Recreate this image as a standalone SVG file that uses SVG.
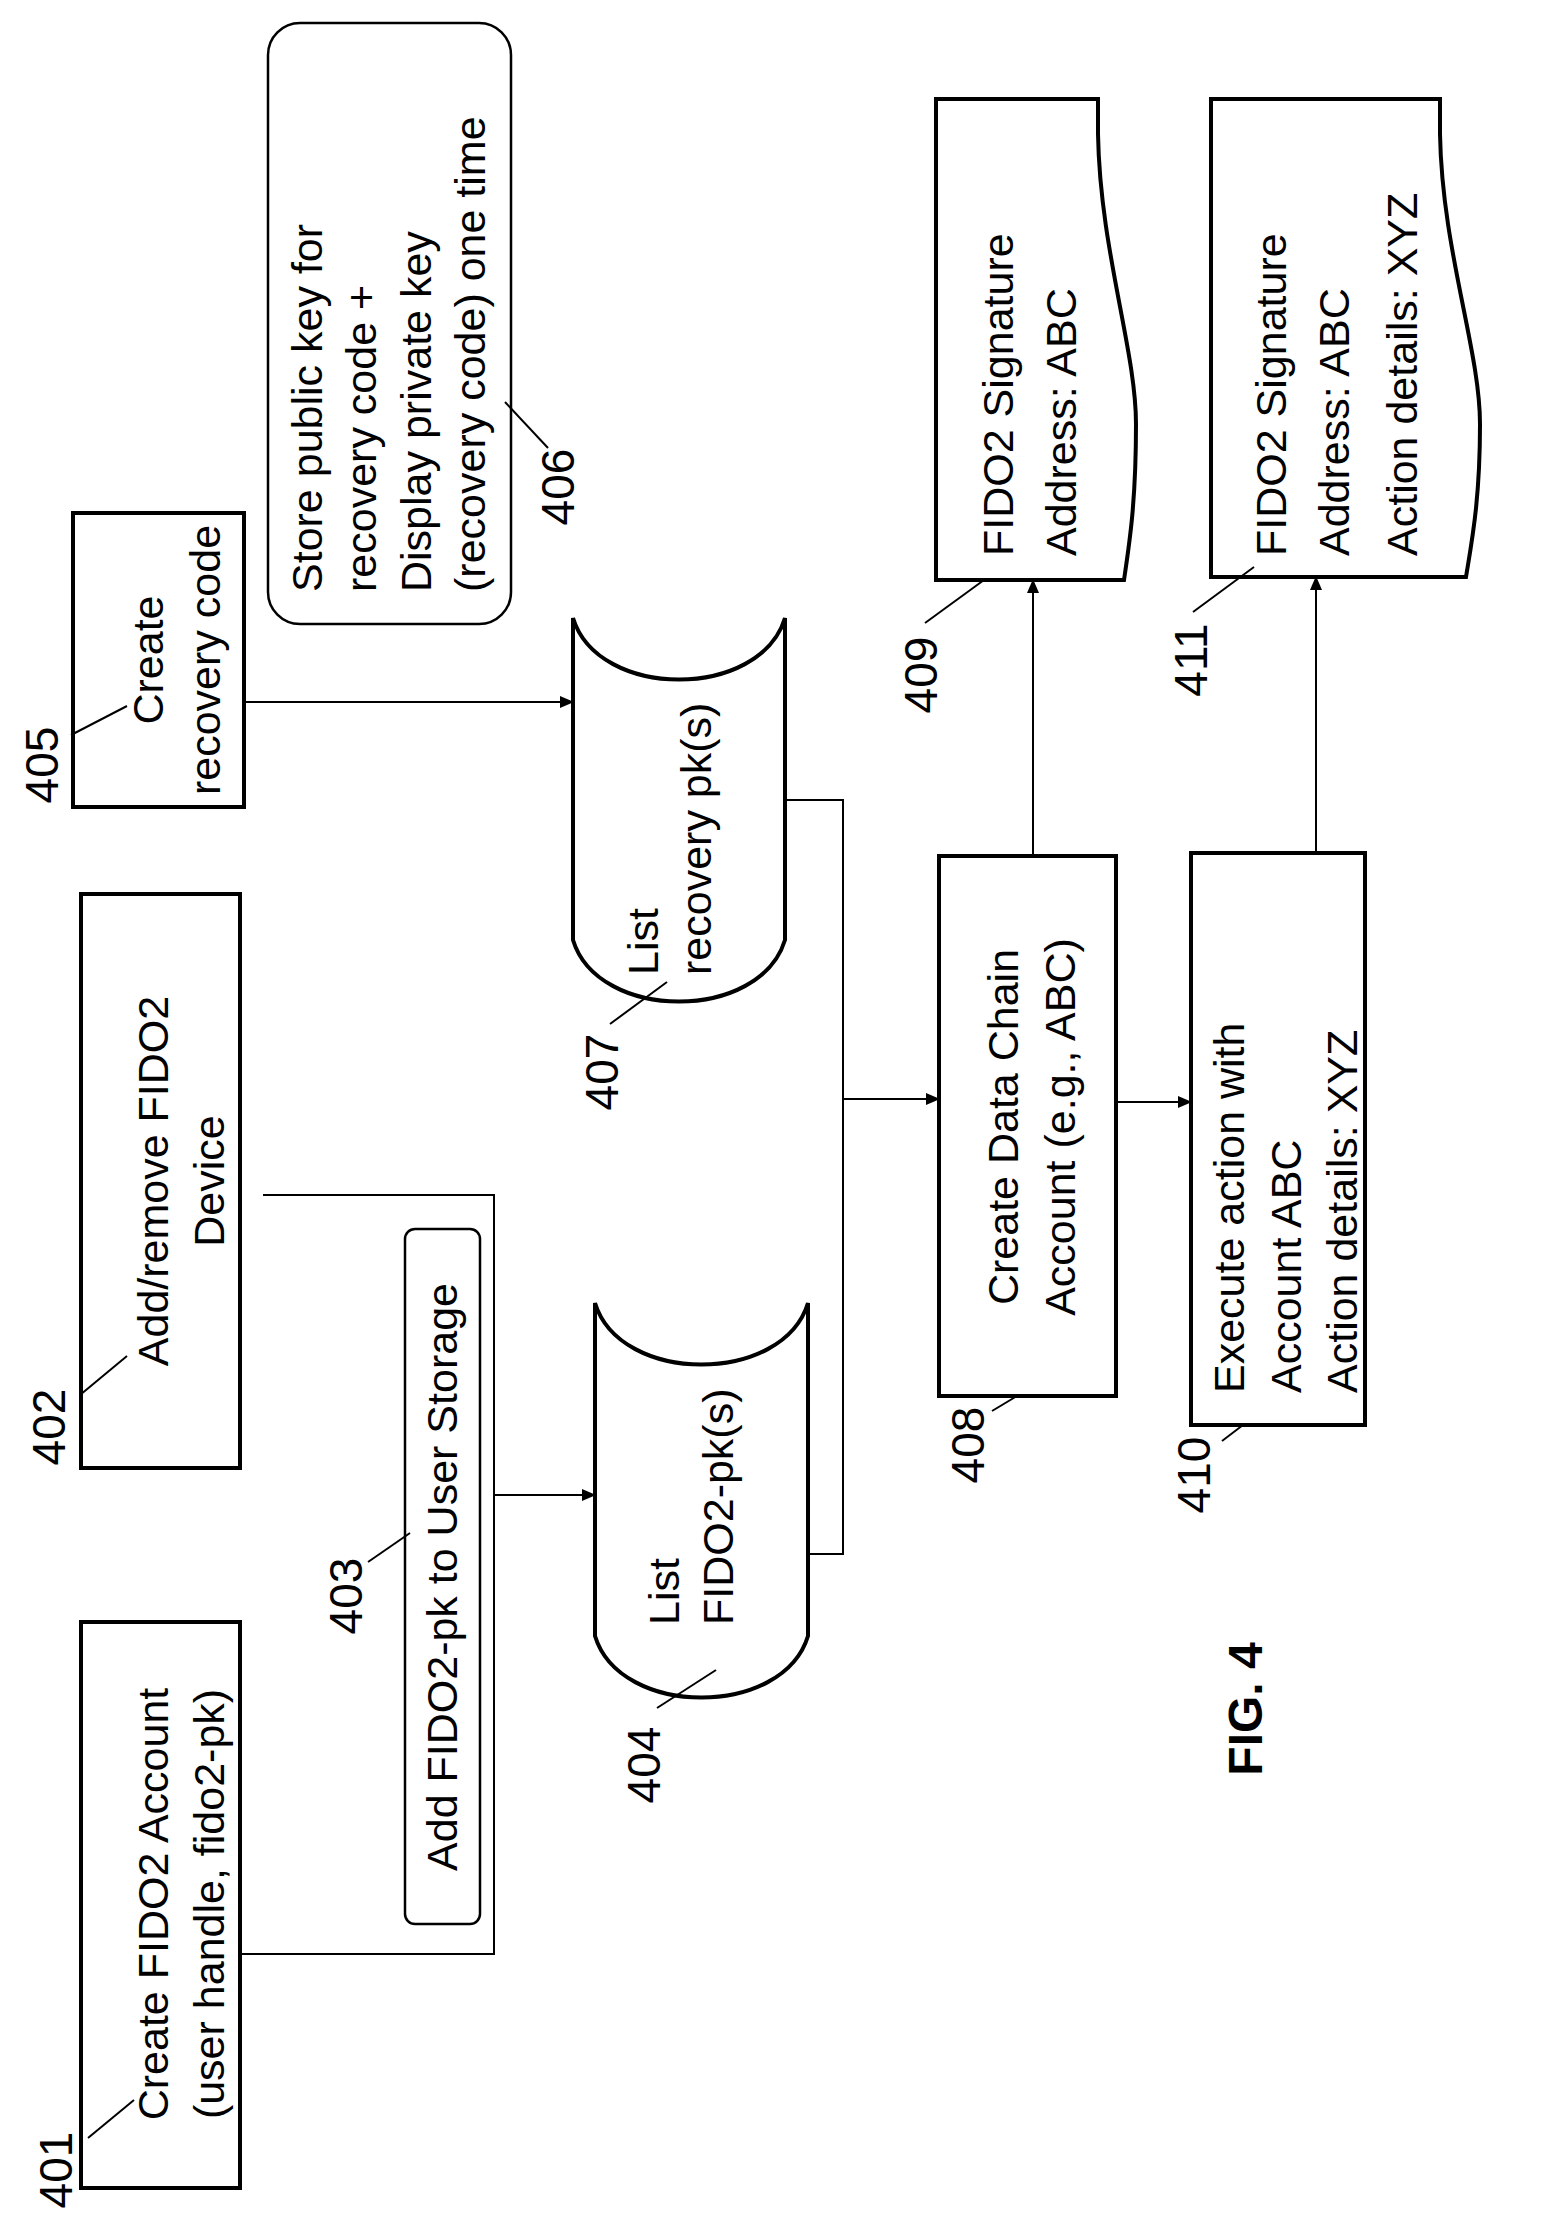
<svg xmlns="http://www.w3.org/2000/svg" width="1554" height="2213" viewBox="0 0 1554 2213">
<style>
.b{fill:none;stroke:#000;stroke-width:4}
.l{fill:none;stroke:#000;stroke-width:2}
.c{fill:none;stroke:#000;stroke-width:2.5}
text{font-family:"Liberation Sans",Arial,sans-serif;font-size:43px;fill:#000}
.m{text-anchor:middle}
.n{font-size:46px}
</style>
<defs><marker id="a" markerWidth="14" markerHeight="12" refX="13" refY="6" orient="auto" markerUnits="userSpaceOnUse"><path d="M0,0 L14,6 L0,12 Z" fill="#000"/></marker></defs>
<rect width="1554" height="2213" fill="#fff"/>
<g id="n401"><rect class="b" x="81" y="1622" width="159" height="566"/>
<text class="m" transform="translate(168,1904) rotate(-90)">Create FIDO2 Account</text>
<text class="m" transform="translate(224,1904) rotate(-90)">(user handle, fido2-pk)</text>
<text class="m n" transform="translate(72,2170) rotate(-90)">401</text><line class="l" x1="88" y1="2138" x2="134" y2="2100"/></g>
<g id="n402"><rect class="b" x="81" y="894" width="159" height="574"/>
<text class="m" transform="translate(168,1181) rotate(-90)">Add/remove FIDO2</text>
<text class="m" transform="translate(224,1181) rotate(-90)">Device</text>
<text class="m n" transform="translate(65,1427) rotate(-90)">402</text><line class="l" x1="80" y1="1395" x2="127" y2="1356"/></g>
<g id="n403"><rect class="c" x="405" y="1229" width="75" height="695" rx="10"/>
<text class="m" transform="translate(457,1577) rotate(-90)">Add FIDO2-pk to User Storage</text>
<text class="m n" transform="translate(362,1596) rotate(-90)">403</text><line class="l" x1="368" y1="1562" x2="410" y2="1533"/></g>
<g id="n404"><path class="b" d="M595,1303 C620,1385 783,1385 808,1303 V1636 C783,1718 620,1718 595,1636 Z"/>
<text transform="translate(679,1625) rotate(-90)">List</text>
<text transform="translate(733,1625) rotate(-90)">FIDO2-pk(s)</text>
<text class="m n" transform="translate(660,1765) rotate(-90)">404</text><line class="l" x1="657" y1="1708" x2="716" y2="1670"/></g>
<g id="n405"><rect class="b" x="73" y="513" width="171" height="294"/>
<text class="m" transform="translate(163,660) rotate(-90)">Create</text>
<text class="m" transform="translate(220,660) rotate(-90)">recovery code</text>
<text class="m n" transform="translate(58,765) rotate(-90)">405</text><line class="l" x1="71" y1="735" x2="127" y2="706"/></g>
<g id="n406"><rect class="c" x="268" y="23" width="243" height="601" rx="32"/>
<text transform="translate(322,592) rotate(-90)">Store public key for</text>
<text transform="translate(376,592) rotate(-90)">recovery code +</text>
<text transform="translate(431,592) rotate(-90)">Display private key</text>
<text transform="translate(485,592) rotate(-90)">(recovery code) one time</text>
<text class="m n" transform="translate(574,487) rotate(-90)">406</text><line class="l" x1="548" y1="448" x2="505" y2="402"/></g>
<g id="n407"><path class="b" d="M573,618 C598,700 760,700 785,618 V940 C760,1022 598,1022 573,940 Z"/>
<text transform="translate(658,975) rotate(-90)">List</text>
<text transform="translate(711,975) rotate(-90)">recovery pk(s)</text>
<text class="m n" transform="translate(618,1072) rotate(-90)">407</text><line class="l" x1="610" y1="1024" x2="667" y2="982"/></g>
<g id="n408"><rect class="b" x="939" y="856" width="177" height="540"/>
<text class="m" transform="translate(1018,1127) rotate(-90)">Create Data Chain</text>
<text class="m" transform="translate(1075,1127) rotate(-90)">Account (e.g., ABC)</text>
<text class="m n" transform="translate(984,1445) rotate(-90)">408</text><line class="l" x1="992" y1="1411" x2="1017" y2="1396"/></g>
<g id="n409"><path class="b" d="M936,99 H1098 V134 C1100,250 1136,350 1136,424 C1136,500 1130,540 1124,580 H936 Z"/>
<text transform="translate(1013,556) rotate(-90)">FIDO2 Signature</text>
<text transform="translate(1076,556) rotate(-90)">Address: ABC</text>
<text class="m n" transform="translate(937,675) rotate(-90)">409</text><line class="l" x1="925" y1="623" x2="984" y2="580"/></g>
<g id="n410"><rect class="b" x="1191" y="853" width="174" height="572"/>
<text transform="translate(1244,1393) rotate(-90)">Execute action with</text>
<text transform="translate(1301,1393) rotate(-90)">Account ABC</text>
<text transform="translate(1357,1393) rotate(-90)">Action details: XYZ</text>
<text class="m n" transform="translate(1210,1475) rotate(-90)">410</text><line class="l" x1="1222" y1="1441" x2="1243" y2="1425"/></g>
<g id="n411"><path class="b" d="M1211,99 H1440 V134 C1442,250 1480,350 1480,424 C1480,500 1472,540 1466,577 H1211 Z"/>
<text transform="translate(1286,556) rotate(-90)">FIDO2 Signature</text>
<text transform="translate(1349,556) rotate(-90)">Address: ABC</text>
<text transform="translate(1417,556) rotate(-90)">Action details: XYZ</text>
<text class="m n" transform="translate(1207,660) rotate(-90)">411</text><line class="l" x1="1193" y1="612" x2="1254" y2="567"/></g>
<g id="connectors">
<polyline class="l" points="240,1954 494,1954 494,1195 263,1195"/>
<line class="l" x1="494" y1="1495" x2="595" y2="1495" marker-end="url(#a)"/>
<line class="l" x1="244" y1="702" x2="573" y2="702" marker-end="url(#a)"/>
<polyline class="l" points="785,800 843,800 843,1554 808,1554"/>
<line class="l" x1="843" y1="1099" x2="939" y2="1099" marker-end="url(#a)"/>
<line class="l" x1="1116" y1="1102" x2="1191" y2="1102" marker-end="url(#a)"/>
<line class="l" x1="1033" y1="856" x2="1033" y2="580" marker-end="url(#a)"/>
<line class="l" x1="1316" y1="853" x2="1316" y2="577" marker-end="url(#a)"/>
</g>
<text transform="translate(1262,1709) rotate(-90)" class="m" style="font-weight:bold;font-size:48px">FIG. 4</text>
</svg>
